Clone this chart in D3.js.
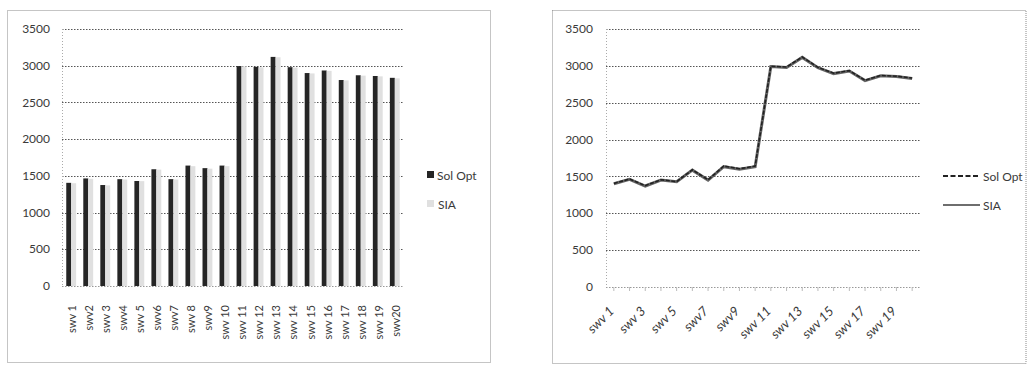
<!DOCTYPE html>
<html><head><meta charset="utf-8">
<script src="https://cdn.jsdelivr.net/npm/d3@7"></script>
<style>
body{margin:0;background:#fff;}
svg{display:block;font-family:Lato, "Open Sans", sans-serif;}
</style></head>
<body>
<svg id="c" width="1027" height="367"></svg>
<script>
const categories = ["swv 1","swv2","swv 3","swv4","swv 5","swv6","swv7","swv 8","swv9","swv 10","swv 11","swv 12","swv 13","swv 14","swv 15","swv 16","swv 17","swv 18","swv 19","swv20"];
const lineTickLabels = ["swv 1","","swv 3","","swv 5","","swv7","","swv9","","swv 11","","swv 13","","swv 15","","swv 17","","swv 19",""];
const seriesNames = ["Sol Opt","SIA"];
const solOpt = [1405,1465,1375,1455,1430,1590,1455,1640,1605,1640,2995,2985,3120,2980,2900,2935,2805,2870,2860,2835];
const sia    = [1400,1460,1370,1450,1428,1585,1450,1632,1598,1632,2990,2978,3115,2975,2895,2930,2800,2865,2855,2828];
const yTicks = [0,500,1000,1500,2000,2500,3000,3500];

const svg = d3.select("#c");
const txt = "#3a3a3a";

function frame(x0,y0,x1,y1){
  svg.append("rect").attr("x",x0).attr("y",y0).attr("width",x1-x0).attr("height",y1-y0)
    .attr("fill","none").attr("stroke","#8a8a8a").attr("stroke-width",1).attr("stroke-dasharray","1,1");
}
function yAxis(g, y, left, right, labelX){
  yTicks.forEach(t=>{
    g.append("line").attr("x1",left).attr("x2",right).attr("y1",Math.round(y(t))+0.5).attr("y2",Math.round(y(t))+0.5)
      .attr("stroke", t===0 ? "#999" : "#555").attr("stroke-width",1).attr("stroke-dasharray","1.5,1.5");
    g.append("text").attr("x",labelX).attr("y",y(t)).attr("dy","0.35em").attr("text-anchor","end")
      .attr("font-size",12).attr("fill",txt).text(t);
  });
  g.append("line").attr("x1",left+0.5).attr("x2",left+0.5).attr("y1",y(3500)).attr("y2",y(0))
    .attr("stroke","#aaa").attr("stroke-dasharray","1,2");
}

// ---------- Left: bar chart ----------
frame(7.5,10.5,490.5,362.5);
const gL = svg.append("g");
const yL = d3.scaleLinear().domain([0,3500]).range([286,29]);
const x0 = d3.scaleBand().domain(categories).range([62,404]).paddingInner(0.42).paddingOuter(0.25);
const x1 = d3.scaleBand().domain(seriesNames).range([0,x0.bandwidth()]);
yAxis(gL, yL, 62, 404, 50);
const barColor = d3.scaleOrdinal().domain(seriesNames).range(["#252525","#e0e0e0"]);
categories.forEach((c,i)=>{
  [[seriesNames[0],solOpt[i]],[seriesNames[1],sia[i]]].forEach(([s,v])=>{
    gL.append("rect").attr("x",x0(c)+x1(s)).attr("y",yL(v)).attr("width",x1.bandwidth()).attr("height",yL(0)-yL(v))
      .attr("fill",barColor(s));
  });
  gL.append("text")
    .attr("transform",`translate(${x0(c)+x0.bandwidth()/2+1},305) rotate(-90)`)
    .attr("dy","0.35em").attr("text-anchor","end").attr("font-size",11).attr("fill",txt).text(c);
});
// legend left
gL.append("rect").attr("x",427).attr("y",171).attr("width",7).attr("height",7).attr("fill",barColor("Sol Opt"));
gL.append("text").attr("x",437).attr("y",180).attr("font-size",12).attr("fill",txt).text("Sol Opt");
gL.append("rect").attr("x",427).attr("y",200).attr("width",7).attr("height",7).attr("fill",barColor("SIA"));
gL.append("text").attr("x",438).attr("y",209).attr("font-size",12).attr("fill",txt).text("SIA");

// ---------- Right: line chart ----------
frame(552.5,10.5,1026,363.5);
const gR = svg.append("g");
const yR = d3.scaleLinear().domain([0,3500]).range([287,29]);
const xR = d3.scalePoint().domain(categories).range([606,920]).padding(0.5);
yAxis(gR, yR, 606, 920, 593);
// tick marks
categories.forEach(c=>{
  gR.append("line").attr("x1",xR(c)).attr("x2",xR(c)).attr("y1",287).attr("y2",291).attr("stroke","#bbb");
});
const line = d3.line().x((d,i)=>xR(categories[i])).y(d=>yR(d));
gR.append("path").datum(sia).attr("d",line).attr("fill","none").attr("stroke","#666").attr("stroke-width",3);
gR.append("path").datum(solOpt).attr("d",line).attr("fill","none").attr("stroke","#222").attr("stroke-width",1.6).attr("stroke-dasharray","4,1.5");
categories.forEach((c,i)=>{
  if(!lineTickLabels[i]) return;
  gR.append("text")
    .attr("transform",`translate(${xR(c)+1},312) rotate(-45)`)
    .attr("text-anchor","end").attr("font-size",13).attr("font-style","italic").attr("fill",txt).text(lineTickLabels[i]);
});
// legend right
gR.append("line").attr("x1",943).attr("x2",980).attr("y1",176).attr("y2",176).attr("stroke","#222").attr("stroke-width",2).attr("stroke-dasharray","5,2.5");
gR.append("text").attr("x",983).attr("y",181).attr("font-size",12).attr("fill",txt).text("Sol Opt");
gR.append("line").attr("x1",943).attr("x2",980).attr("y1",205).attr("y2",205).attr("stroke","#6e6e6e").attr("stroke-width",2);
gR.append("text").attr("x",983).attr("y",210).attr("font-size",12).attr("fill",txt).text("SIA");
</script>
</body></html>
